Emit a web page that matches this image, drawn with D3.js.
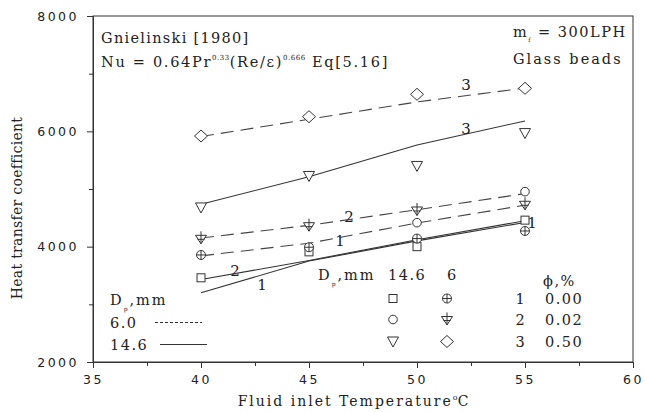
<!DOCTYPE html>
<html><head><meta charset="utf-8">
<script src="https://cdn.jsdelivr.net/npm/d3@7"></script>
<style>
body{margin:0;background:#fff;}
text{font-family:"DejaVu Serif",serif;fill:#222;}
.tick text{font-family:"DejaVu Sans",sans-serif;}
</style></head>
<body><svg id="c" width="645" height="412"></svg>
<script>
// ---- data ----
const temps = [40, 45, 50, 55];
// measured points
const sq146 = [3460, 3910, 4000, 4460];      // 14.6 mm, phi 0.00
const ci146 = [null, null, 4416, 4954];      // 14.6 mm, phi 0.02
const tr146 = [4680, 5226, 5400, 5970];      // 14.6 mm, phi 0.50
const cc6 = [3856, 3990, 4140, 4272];        // 6 mm, phi 0.00
const tc6 = [4145, 4364, 4636, 4735];        // 6 mm, phi 0.02
const di6 = [5919, 6254, 6642, 6746];        // 6 mm, phi 0.50
// correlation lines Eq[5.16]
const eq6_1 = [3840, 4060, 4410, 4720];
const eq6_2 = [4150, 4370, 4640, 4920];
const eq6_3 = [5910, 6210, 6510, 6750];
const eq146_1 = [3200, 3750, 4100, 4420];
const eq146_2 = [3430, 3760, 4120, 4450];
const eq146_3 = [4735, 5213, 5763, 6180];
const xTicks = [35, 40, 45, 50, 55, 60];
const yTicks = [2000, 4000, 6000, 8000];
const phiLabels = ["1", "2", "3"];
const phiValues = ["0.00", "0.02", "0.50"];

const svg = d3.select("#c");
const x = d3.scaleLinear().domain([35, 60]).range([93, 633]);
const y = d3.scaleLinear().domain([2000, 8000]).range([362, 16]);
const ink = "#333";
const LS = 1.5;

// frame
svg.append("rect").attr("x", 93).attr("y", 16).attr("width", 540).attr("height", 346)
  .attr("fill", "none").attr("stroke", ink).attr("stroke-width", 1);

// axes
svg.append("g").attr("transform", "translate(0,362)")
  .call(d3.axisBottom(x).tickValues(xTicks).tickSize(6).tickPadding(7).tickFormat(d3.format("d")));
svg.append("g").attr("transform", "translate(0,362)")
  .call(d3.axisBottom(x).tickValues([37.5, 42.5, 47.5, 52.5, 57.5]).tickSize(4).tickFormat(""));
svg.append("g").attr("transform", "translate(93,0)")
  .call(d3.axisLeft(y).tickValues(yTicks).tickSize(6).tickPadding(8).tickFormat(d3.format("d")));
svg.append("g").attr("transform", "translate(93,0)")
  .call(d3.axisLeft(y).tickValues([3000, 5000, 7000]).tickSize(4).tickFormat(""));
svg.selectAll(".domain").attr("stroke", ink);
svg.selectAll(".tick line").attr("stroke", ink);
svg.selectAll(".tick text").attr("font-size", 12.5).attr("letter-spacing", 2.5).attr("fill", "#333");

// axis titles
const xt = svg.append("text").attr("x", 354).attr("y", 406).attr("text-anchor", "middle")
  .attr("font-size", 14).attr("letter-spacing", 2);
xt.append("tspan").text("Fluid inlet Temperature");
xt.append("tspan").attr("dy", -6).attr("font-size", 8).attr("letter-spacing", 0).text("o");
xt.append("tspan").attr("dy", 6).text("C");
svg.append("text").attr("transform", "translate(22,208) rotate(-90)").attr("text-anchor", "middle")
  .attr("font-size", 14).attr("letter-spacing", 0.3).text("Heat transfer coefficient");

// lines
const line = d3.line().defined(d => d[1] != null).x(d => x(d[0])).y(d => y(d[1]));
function drawLine(vals, dashed) {
  svg.append("path").datum(temps.map((t, i) => [t, vals[i]]))
    .attr("d", line).attr("fill", "none").attr("stroke", dashed ? "#444" : "#333")
    .attr("stroke-width", 1.1).attr("stroke-dasharray", dashed ? "13,7" : null);
}
[eq6_1, eq6_2, eq6_3].forEach(v => drawLine(v, true));
[eq146_1, eq146_2, eq146_3].forEach(v => drawLine(v, false));

// marker shapes
function marker(g, type) {
  const s = g.append("g").attr("fill", "none").attr("stroke", ink).attr("stroke-width", 1);
  if (type === "square") s.append("rect").attr("x", -4).attr("y", -4).attr("width", 8).attr("height", 8).attr("fill", "#fff");
  if (type === "circle") s.append("circle").attr("r", 4.3).attr("fill", "#fff");
  if (type === "tri") s.append("path").attr("d", "M-5.5,-4.5L5.5,-4.5L0,5.5Z").attr("fill", "#fff");
  if (type === "diamond") s.append("path").attr("d", "M0,-6L6.5,0L0,6L-6.5,0Z").attr("fill", "#fff");
  if (type === "ccross") {
    s.append("circle").attr("r", 4.5).attr("fill", "#fff");
    s.append("path").attr("d", "M-4.5,0H4.5M0,-4.5V4.5");
  }
  if (type === "tcross") {
    s.append("path").attr("d", "M-5.5,-3L5.5,-3L0,5.5Z").attr("fill", "#fff");
    s.append("path").attr("d", "M0,-7V5.5M-3.5,1H3.5");
  }
}
function drawPoints(vals, type) {
  temps.forEach((t, i) => {
    if (vals[i] == null) return;
    marker(svg.append("g").attr("transform", `translate(${x(t)},${y(vals[i])})`), type);
  });
}
drawPoints(sq146, "square");
drawPoints(ci146, "circle");
drawPoints(tr146, "tri");
drawPoints(cc6, "ccross");
drawPoints(tc6, "tcross");
drawPoints(di6, "diamond");

// curve labels
const lab = (tx, ty, s) => svg.append("text").attr("x", tx).attr("y", ty).attr("text-anchor", "middle").attr("font-size", 15).text(s);
lab(466, 90, "3"); lab(466, 134, "3");
lab(349, 222, "2"); lab(340, 246, "1");
lab(235, 276, "2"); lab(262, 290, "1");
lab(532, 228, "1");

// annotation text
svg.append("text").attr("x", 101).attr("y", 43).attr("font-size", 14.5).attr("letter-spacing", 1.3).text("Gnielinski [1980]");
const nu = svg.append("text").attr("x", 101).attr("y", 67).attr("font-size", 14.5).attr("letter-spacing", 1.7);
nu.append("tspan").text("Nu = 0.64Pr");
nu.append("tspan").attr("dy", -7).attr("font-size", 7).attr("letter-spacing", 0.5).text("0.33");
nu.append("tspan").attr("dy", 7).text("(Re/ε)");
nu.append("tspan").attr("dy", -7).attr("font-size", 7).attr("letter-spacing", 0.5).text("0.666");
nu.append("tspan").attr("dy", 7).text(" Eq[5.16]");
const mf = svg.append("text").attr("x", 513).attr("y", 37).attr("font-size", 14.5).attr("letter-spacing", LS);
mf.append("tspan").text("m");
mf.append("tspan").attr("dy", 5).attr("font-size", 6).text("f");
mf.append("tspan").attr("dy", -5).text(" = 300LPH");
svg.append("text").attr("x", 513).attr("y", 64).attr("font-size", 14.5).attr("letter-spacing", 2).text("Glass beads");

// left legend (line styles)
const dp1 = svg.append("text").attr("x", 110).attr("y", 305).attr("font-size", 14.5).attr("letter-spacing", 2);
dp1.append("tspan").text("D");
dp1.append("tspan").attr("dy", 6).attr("font-size", 6).text("p");
dp1.append("tspan").attr("dy", -6).text(",mm");
svg.append("text").attr("x", 110).attr("y", 328).attr("font-size", 14.5).attr("letter-spacing", LS).text("6.0");
svg.append("line").attr("x1", 155).attr("x2", 202).attr("y1", 322.5).attr("y2", 322.5)
  .attr("stroke", ink).attr("stroke-dasharray", "3,2");
svg.append("text").attr("x", 110).attr("y", 350).attr("font-size", 14.5).attr("letter-spacing", LS).text("14.6");
svg.append("line").attr("x1", 160).attr("x2", 207).attr("y1", 344.5).attr("y2", 344.5).attr("stroke", ink);

// right legend (markers)
const dp2 = svg.append("text").attr("x", 318).attr("y", 280).attr("font-size", 14.5).attr("letter-spacing", 2);
dp2.append("tspan").text("D");
dp2.append("tspan").attr("dy", 6).attr("font-size", 6).text("p");
dp2.append("tspan").attr("dy", -6).text(",mm");
svg.append("text").attr("x", 388).attr("y", 280).attr("font-size", 14.5).attr("letter-spacing", LS).text("14.6");
svg.append("text").attr("x", 447).attr("y", 280).attr("font-size", 14.5).text("6");
svg.append("text").attr("x", 543).attr("y", 286).attr("font-size", 14.5).attr("letter-spacing", LS).text("ϕ,%");
const rowsY = [298.5, 319.5, 341.5];
const col146 = ["square", "circle", "tri"];
const col6 = ["ccross", "tcross", "diamond"];
rowsY.forEach((ry, i) => {
  marker(svg.append("g").attr("transform", `translate(393,${ry})`), col146[i]);
  marker(svg.append("g").attr("transform", `translate(447,${ry})`), col6[i]);
  svg.append("text").attr("x", 520).attr("y", ry + 5).attr("text-anchor", "middle").attr("font-size", 14.5).text(phiLabels[i]);
  svg.append("text").attr("x", 545).attr("y", ry + 5).attr("font-size", 14.5).attr("letter-spacing", LS).text(phiValues[i]);
});
</script></body></html>
